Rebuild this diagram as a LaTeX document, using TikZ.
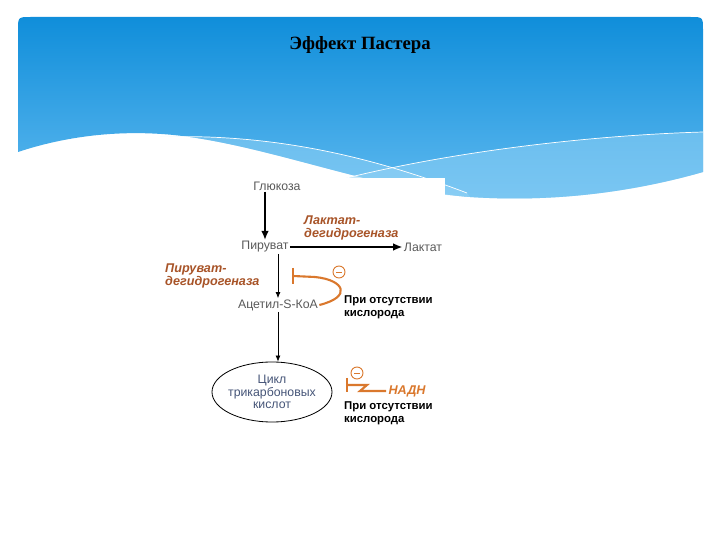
\documentclass[tikz,border=0pt]{standalone}
\usepackage{fontspec}
\setmainfont{Liberation Serif}
\newfontfamily\diagfont{Liberation Sans}
\usetikzlibrary{arrows.meta,shapes.geometric}
\definecolor{BannerTop} {RGB}{16, 142, 218}
\definecolor{BannerLow} {RGB}{96, 186, 240}
\definecolor{BandBlue}  {RGB}{150, 212, 246}
\definecolor{EnzBrown}  {RGB}{168, 84, 40}
\definecolor{InhOrange} {RGB}{218, 120, 45}
\definecolor{LabelGray} {RGB}{90, 90, 90}
\definecolor{CycleText} {RGB}{70, 85, 120}

\begin{document}
\begin{tikzpicture}[
  x=0.03cm, y=-0.03cm,
  metab/.style={
    font=\diagfont\fontsize{10.5}{11}\selectfont,
    text=LabelGray, inner sep=1pt},
  enzyme/.style={
    font=\diagfont\bfseries\itshape\fontsize{10.8}{10.5}\selectfont,
    text=EnzBrown, align=left,
    inner sep=0pt, anchor=west},
  cond/.style={
    font=\diagfont\bfseries\fontsize{9.7}{10.8}\selectfont,
    align=left, inner sep=0pt, anchor=west},
  flow/.style={
    -{Latex[length=2.8mm,width=2.3mm]},
    line width=2pt},
  thinflow/.style={
    -{Latex[length=1.8mm,width=1.5mm]},
    line width=0.6pt},
  inhib/.style={
    draw=InhOrange, line width=1.8pt},
  minus/.style={
    circle, draw=InhOrange, line width=0.8pt,
    minimum size=0.36cm, inner sep=0pt}
]
\useasboundingbox (0,0) rectangle (720,540);
\fill[white] (0,0) rectangle (720,540);

% banner
\shade[top color=BannerTop, bottom color=BannerLow]
  (18,30) .. controls (18,17) .. (31,17) -- (690,17)
  .. controls (703,17) .. (703,30) -- (703,172)
  .. controls (640,190) and (560,203) .. (470,197)
  .. controls (380,190) and (280,150) .. (190,137)
  .. controls (120,127) and (60,138) .. (18,152) -- cycle;
\fill[BandBlue, opacity=0.5]
  (190,137) .. controls (280,150) and (380,190) .. (470,197)
  -- (467,193) .. controls (380,160) and (280,133) .. (160,137)
  -- cycle;
\fill[BandBlue, opacity=0.5]
  (323,184) .. controls (450,150) and (600,135) .. (703,132)
  -- (703,172) .. controls (640,190) and (560,203) .. (470,197)
  -- cycle;
\draw[white, line width=0.6pt]
  (160,137) .. controls (280,133) and (380,160) .. (467,193);
\draw[white, line width=0.6pt]
  (323,184) .. controls (450,150) and (600,135) .. (703,132);
\fill[white] (150,178) rectangle (445,440);

\node[font=\bfseries\fontsize{16}{18}\selectfont]
  (title) at (360,45) {Эффект Пастера};

% metabolites
\node[metab] (gluc) at (277,186) {Глюкоза};
\node[metab] (pyr)  at (265,247) {Пируват};
\node[metab] (lact) at (423,247) {Лактат};
\node[metab] (acoa) at (278,305) {Ацетил-S-КоА};
\node[ellipse, draw, line width=0.7pt,
  minimum width=3.6cm, minimum height=1.8cm,
  align=center, text=CycleText,
  inner xsep=-2pt, inner ysep=0pt,
  font=\diagfont\fontsize{10.5}{10.6}\selectfont]
  (tca) at (272,392) {Цикл\\трикарбоновых\\кислот};

% enzymes and conditions
\node[enzyme] (ldh) at (304,228) {Лактат-\\дегидрогеназа};
\node[enzyme] (pdh) at (165,276) {Пируват-\\дегидрогеназа};
\node[cond] (noox1) at (344,307) {При отсутствии\\кислорода};
\node[cond] (noox2) at (344,413) {При отсутствии\\кислорода};
\node[enzyme, text=InhOrange, inner sep=2pt] (nadh) at (386,391) {НАДН};

\draw[flow] (gluc.south -| pyr.north) -- (pyr.north);
\draw[flow] (pyr.east) -- (lact.west);
\draw[thinflow] (acoa.north |- pyr.south) -- (acoa.north);
\draw[thinflow] (acoa.south) -- (acoa.south |- tca.north);

% inhibition
\coordinate (bar1) at (293,276);
\node[minus] (m1) at (339,272) {};
\draw[InhOrange, line width=0.8pt] ([xshift=-0.09cm]m1.center) -- ([xshift=0.09cm]m1.center);
\draw[inhib] (bar1) ++(0,-8) -- ++(0,16);
\draw[inhib] (bar1) -- ++(22,1)
  .. controls (345,280) and (352,297) .. (acoa.east);

\coordinate (bar2) at (347,385);
\node[minus] (m2) at (357,373) {};
\draw[InhOrange, line width=0.8pt] ([xshift=-0.09cm]m2.center) -- ([xshift=0.09cm]m2.center);
\draw[inhib] (bar2) ++(0,-7) -- ++(0,14);
\draw[inhib] (bar2) -- (367,385) -- (360,391) -- (nadh.west);
\end{tikzpicture}
\end{document}
